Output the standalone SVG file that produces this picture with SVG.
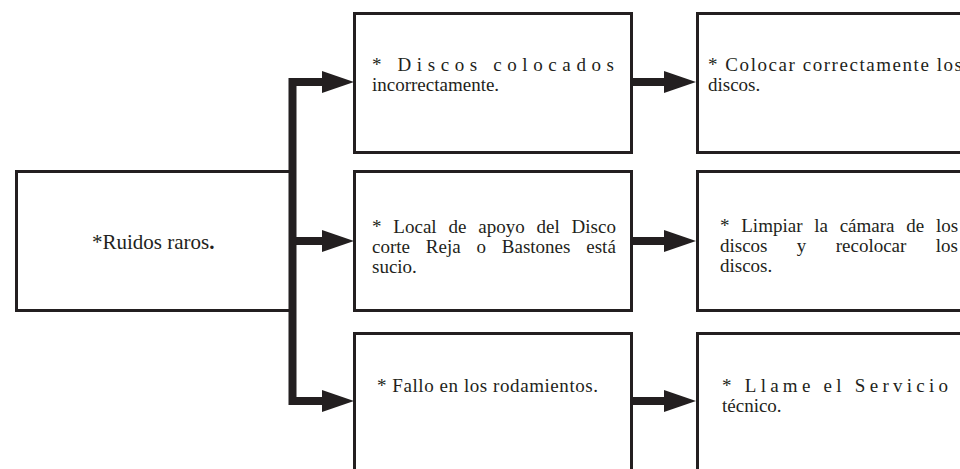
<svg xmlns="http://www.w3.org/2000/svg" width="960" height="469" viewBox="0 0 960 469">
  <style>
    .box { fill: #ffffff; stroke: #231f20; stroke-width: 3; }
    .conn { fill: none; stroke: #231f20; stroke-width: 8; stroke-linejoin: miter; }
    text { font-family: "Liberation Serif", "Times New Roman", serif; font-size: 19px; fill: #231f20; }
  </style>
  <defs>
    <marker id="arrow" markerUnits="userSpaceOnUse" markerWidth="32" markerHeight="22" viewBox="0 0 32 22" refX="0" refY="11" orient="auto">
      <path d="M0,0 L32,11 L0,22 Z" fill="#231f20"/>
    </marker>
  </defs>
  <rect width="960" height="469" fill="#ffffff"/>

  <g id="n-ruidos">
    <rect class="box" x="16.5" y="171.5" width="274" height="139"/>
    <text x="92" y="249" style="font-size:21px">*Ruidos raros<tspan font-weight="bold">.</tspan></text>
  </g>

  <g id="n-discos">
    <rect class="box" x="354.5" y="13.5" width="277" height="139"/>
    <text x="372" y="71" textLength="242" lengthAdjust="spacing">* Discos colocados</text>
    <text x="372" y="91">incorrectamente.</text>
  </g>

  <g id="n-local">
    <rect class="box" x="354.5" y="171.5" width="277" height="139"/>
    <text x="372" y="233" word-spacing="7.1">* Local de apoyo del Disco</text>
    <text x="372" y="253" word-spacing="11.1">corte Reja o Bastones está</text>
    <text x="372" y="273">sucio.</text>
  </g>

  <g id="n-fallo">
    <rect class="box" x="354.5" y="333.5" width="277" height="200"/>
    <text x="377" y="392" textLength="221" lengthAdjust="spacing">* Fallo en los rodamientos.</text>
  </g>

  <g id="n-colocar">
    <rect class="box" x="697.5" y="13.5" width="300" height="139"/>
    <text x="708" y="71" textLength="254" lengthAdjust="spacing">* Colocar correctamente los</text>
    <text x="708" y="91">discos.</text>
  </g>

  <g id="n-limpiar">
    <rect class="box" x="697.5" y="171.5" width="300" height="139"/>
    <text x="720" y="232" word-spacing="7">* Limpiar la cámara de los</text>
    <text x="720" y="252" word-spacing="24.6">discos y recolocar los</text>
    <text x="720" y="272">discos.</text>
  </g>

  <g id="n-llame">
    <rect class="box" x="697.5" y="333.5" width="300" height="200"/>
    <text x="722" y="392" textLength="226" lengthAdjust="spacing">* Llame el Servicio</text>
    <text x="722" y="412">técnico.</text>
  </g>

  <g id="connectors">
    <path class="conn" d="M292.5,241 V82 H322" marker-end="url(#arrow)"/>
    <path class="conn" d="M289,241 H322" marker-end="url(#arrow)"/>
    <path class="conn" d="M292.5,241 V401 H322" marker-end="url(#arrow)"/>
    <path class="conn" d="M633,82 H664" marker-end="url(#arrow)"/>
    <path class="conn" d="M633,241 H664" marker-end="url(#arrow)"/>
    <path class="conn" d="M633,401 H664" marker-end="url(#arrow)"/>
  </g>
</svg>
